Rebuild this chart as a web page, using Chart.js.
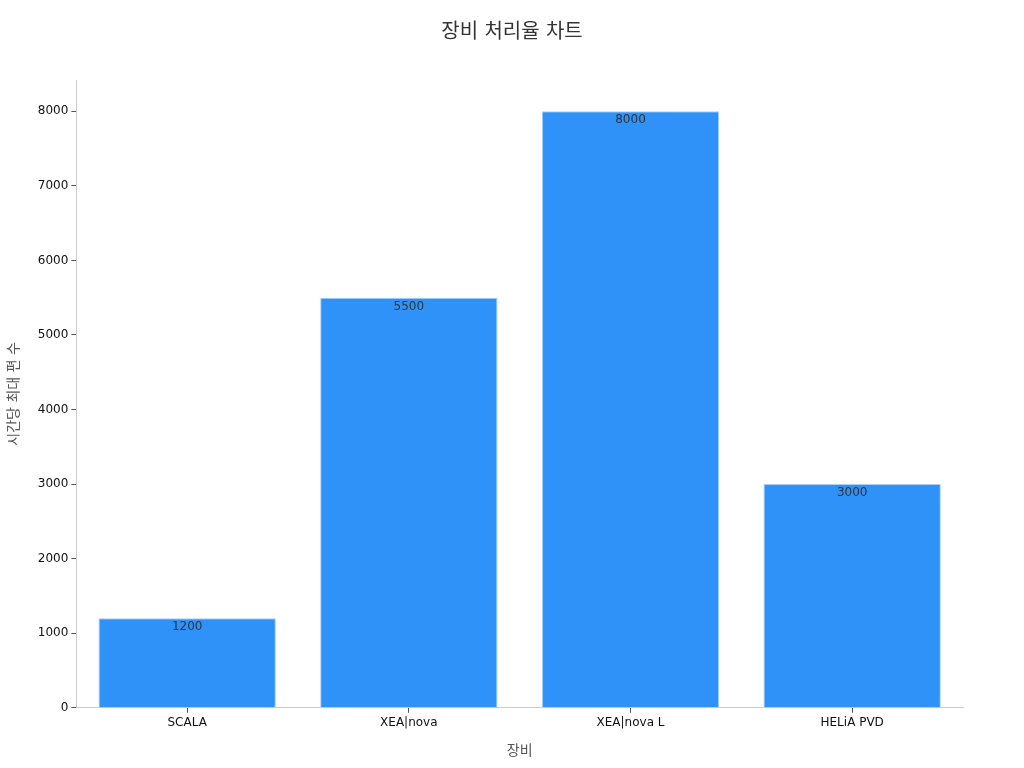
<!DOCTYPE html>
<html lang="ko">
<head>
<meta charset="utf-8">
<title>장비 처리율 차트</title>
<script src="https://cdn.jsdelivr.net/npm/chart.js@4/dist/chart.umd.min.js"></script>
<style>
  html, body { margin: 0; padding: 0; background: #fff; }
  #wrap { width: 1024px; height: 768px; }
</style>
</head>
<body>
<div id="wrap"><canvas id="chart" width="1024" height="768"></canvas></div>
<script>
const categories = ['SCALA', 'XEA|nova', 'XEA|nova L', 'HELiA PVD'];
const throughput = [1200, 5500, 8000, 3000];
const yTicks = [0, 1000, 2000, 3000, 4000, 5000, 6000, 7000, 8000];
const chartTitle = '장비 처리율 차트';

const fontFamily = '"DejaVu Sans", "Noto Sans CJK KR", sans-serif';

// 막대 안쪽 위에 값 표시 + 캔버스 가운데 제목
const valueLabels = {
    id: 'valueLabels',
    afterDatasetsDraw(chart) {
        const ctx = chart.ctx;
        const meta = chart.getDatasetMeta(0);
        ctx.save();
        ctx.font = '12px ' + fontFamily;
        ctx.fillStyle = '#333333';
        ctx.textAlign = 'center';
        ctx.textBaseline = 'top';
        meta.data.forEach((bar, i) => {
            ctx.fillText(String(throughput[i]), bar.x, bar.y + 3);
        });
        ctx.font = '20px ' + fontFamily;
        ctx.textBaseline = 'middle';
        ctx.fillText(chartTitle, chart.width / 2, 33);
        ctx.restore();
    }
};

new Chart(document.getElementById('chart').getContext('2d'), {
    type: 'bar',
    data: {
        labels: categories,
        datasets: [{
            data: throughput,
            backgroundColor: '#2f92f9',
            borderColor: '#a8d0fb',
            borderWidth: 1,
            barPercentage: 0.8,
            categoryPercentage: 1.0
        }]
    },
    options: {
        responsive: false,
        animation: false,
        layout: { padding: { top: 80, right: 61, bottom: 4, left: 2 } },
        plugins: {
            legend: { display: false },
            tooltip: { enabled: false },
            title: { display: false }
        },
        scales: {
            x: {
                grid: { display: true, offset: false, drawOnChartArea: false, tickLength: 5, tickColor: '#555555' },
                border: { color: '#cccccc' },
                ticks: { color: '#111111', font: { family: fontFamily, size: 12 }, padding: 3 },
                title: {
                    display: true,
                    text: '장비',
                    color: '#555555',
                    font: { family: fontFamily, size: 14 },
                    padding: { top: 10 }
                }
            },
            y: {
                min: 0,
                max: 8420,
                afterBuildTicks: (axis) => { axis.ticks = yTicks.map(v => ({ value: v })); },
                grid: { display: true, drawOnChartArea: false, tickLength: 5, tickColor: '#555555' },
                border: { color: '#cccccc' },
                ticks: {
                    color: '#111111',
                    font: { family: fontFamily, size: 12 },
                    padding: 3,
                    callback: (v) => String(v)
                },
                title: {
                    display: true,
                    text: '시간당 최대 편 수',
                    color: '#555555',
                    font: { family: fontFamily, size: 14 },
                    padding: { bottom: 12 }
                }
            }
        }
    },
    plugins: [valueLabels]
});
</script>
</body>
</html>
